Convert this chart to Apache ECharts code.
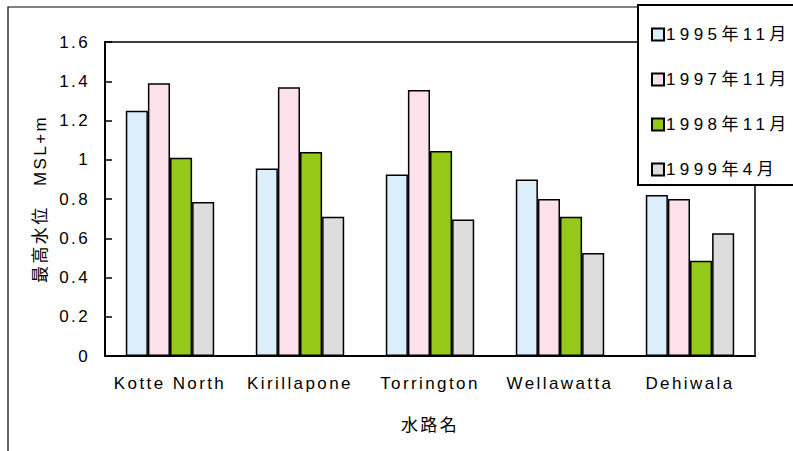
<!DOCTYPE html>
<html>
<head>
    <meta charset="utf-8">
    <title>最高水位</title>
    <script src="https://cdn.jsdelivr.net/npm/echarts@6/dist/echarts.min.js"></script>
    <style>
        html, body { margin: 0; padding: 0; background: #fff; }
        #chart1 { width: 793px; height: 451px; }
        /* 原图的字距较宽 */
        #chart1 svg text { letter-spacing: 2.4px; }
    </style>
</head>
<body>
<div id="chart1"></div>
<script type="text/javascript">
    // 数据
    var categories = ['Kotte North', 'Kirillapone', 'Torrington', 'Wellawatta', 'Dehiwala'];
    var seriesNames = ['1995年11月', '1997年11月', '1998年11月', '1999年4月'];
    var data1995 = [1.25, 0.955, 0.925, 0.90, 0.82];
    var data1997 = [1.39, 1.37, 1.355, 0.80, 0.80];
    var data1998 = [1.01, 1.04, 1.045, 0.71, 0.485];
    var data1999 = [0.785, 0.71, 0.695, 0.525, 0.625];
    var colors = ['#ddeefb', '#fce1ea', '#94c91a', '#dddddd'];

    var fontFamily = '"Liberation Sans", Arial, "Noto Sans CJK JP", sans-serif';
    var allData = [data1995, data1997, data1998, data1999];

    // svg 渲染，方便用 css 调字距
    var myChart1 = echarts.init(document.getElementById('chart1'), null, { renderer: 'svg' });

    myChart1.setOption({
        animation: false,
        textStyle: { fontFamily: fontFamily, color: '#000' },
        grid: {
            left: 105, top: 42, right: 38, bottom: 95,
            show: true, borderColor: '#000', borderWidth: 1.5
        },
        graphic: [
            {   // 外框
                type: 'rect', z: -1,
                shape: { x: 8, y: 7, width: 820, height: 480 },
                style: { fill: 'none', stroke: '#000', lineWidth: 1.2 }
            },
            {   // 图例框
                type: 'rect', z: 100,
                shape: { x: 638, y: 5, width: 170, height: 180 },
                style: { fill: '#fff', stroke: '#000', lineWidth: 2 }
            }
        ],
        legend: {
            orient: 'vertical',
            left: 646, top: 21,
            z: 101,
            itemWidth: 12, itemHeight: 12,
            itemGap: 28,
            icon: 'rect',
            textStyle: { fontSize: 17, color: '#000', fontFamily: fontFamily, padding: [0, 0, 0, -3] },
            data: seriesNames
        },
        xAxis: {
            type: 'category',
            data: categories,
            axisLine: { lineStyle: { color: '#000', width: 2 } },
            axisTick: { show: false },
            axisLabel: { fontSize: 17, color: '#000', margin: 19 },
            name: '水路名',
            nameLocation: 'middle',
            nameGap: 61,
            nameTextStyle: { fontSize: 17, color: '#000' }
        },
        yAxis: {
            type: 'value',
            min: 0, max: 1.6, interval: 0.2,
            axisLine: { show: true, lineStyle: { color: '#000', width: 2 } },
            axisTick: { show: true, inside: true, length: 7, lineStyle: { color: '#000', width: 1.5 } },
            splitLine: { show: false },
            axisLabel: { fontSize: 17, color: '#000', margin: 15 },
            name: '最高水位　MSL+m',
            nameLocation: 'middle',
            nameRotate: 90,
            nameGap: 56,
            nameTextStyle: { fontSize: 17, color: '#000' }
        },
        series: seriesNames.map(function (name, i) {
            return {
                name: name,
                type: 'bar',
                data: allData[i],
                barGap: '0%',
                barCategoryGap: '32%',
                itemStyle: { color: colors[i], borderColor: '#000', borderWidth: 1.5 }
            };
        })
    });

    // 图例文字字距更宽一些
    document.querySelectorAll('#chart1 svg text').forEach(function (t) {
        if (seriesNames.indexOf(t.textContent) >= 0) {
            t.style.letterSpacing = '4.4px';
        }
    });
</script>
</body>
</html>
